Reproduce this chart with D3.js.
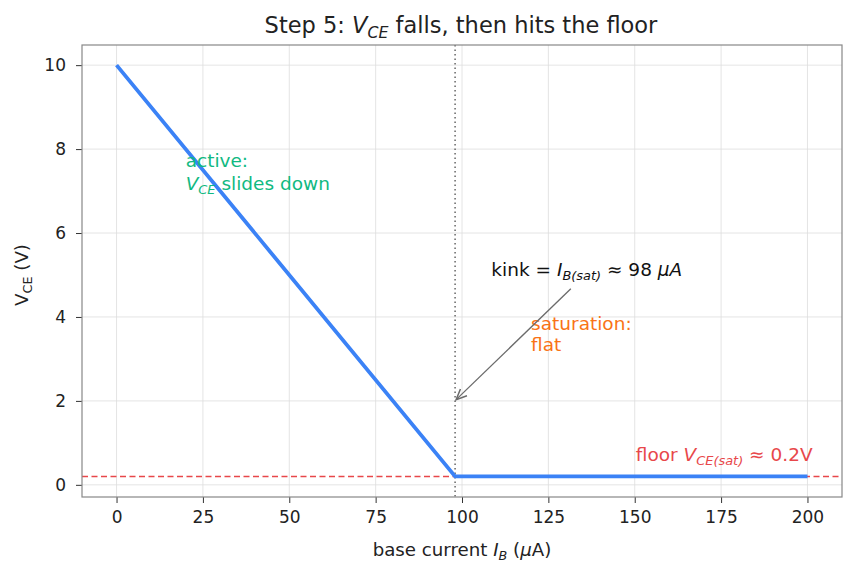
<!DOCTYPE html>
<html>
<head>
<script src="https://cdn.jsdelivr.net/npm/d3@7"></script>
<style>
  body { margin: 0; background: #fff; }
  svg { font-family: "DejaVu Sans", sans-serif; }
  .grid line { stroke: #ddd; stroke-width: 0.8; }
</style>
</head>
<body>
<svg id="chart" width="855" height="575"></svg>
<script>
// base current (uA) vs collector-emitter voltage (V)
var ibVals = [0, 98, 200];
var vceVals = [10, 0.2, 0.2];
var xTicks = [0, 25, 50, 75, 100, 125, 150, 175, 200];
var yTicks = [0, 2, 4, 6, 8, 10];
var ibSat = 98, vceSat = 0.2;

var margin = {top: 45, right: 13, bottom: 78, left: 82},
    width = 855 - margin.left - margin.right,
    height = 575 - margin.top - margin.bottom;

var svg = d3.select("#chart");
var g = svg.append("g").attr("transform", "translate(" + margin.left + "," + margin.top + ")");

var x = d3.scaleLinear().domain([-10, 210]).range([0, width]);
var y = d3.scaleLinear().domain([-0.29, 10.48]).range([height, 0]);

// grid
g.append("g").attr("class", "grid")
  .selectAll("line").data(xTicks).enter().append("line")
  .attr("x1", d => x(d)).attr("x2", d => x(d)).attr("y1", 0).attr("y2", height);
g.append("g").attr("class", "grid")
  .selectAll("line").data(yTicks).enter().append("line")
  .attr("y1", d => y(d)).attr("y2", d => y(d)).attr("x1", 0).attr("x2", width);

// floor line
g.append("line")
  .attr("x1", 0).attr("x2", width).attr("y1", y(vceSat)).attr("y2", y(vceSat))
  .attr("stroke", "#e8474a").attr("stroke-width", 1.5).attr("stroke-dasharray", "6,3.5");

// kink line
g.append("line")
  .attr("x1", x(ibSat)).attr("x2", x(ibSat)).attr("y1", 0).attr("y2", height)
  .attr("stroke", "#666").attr("stroke-width", 1.5).attr("stroke-dasharray", "1.5,3");

// main curve
var pts = ibVals.map((d, i) => [d, vceVals[i]]);
g.append("path").datum(pts)
  .attr("fill", "none").attr("stroke", "#3b82f6").attr("stroke-width", 3.8)
  .attr("d", d3.line().x(d => x(d[0])).y(d => y(d[1])));

// axes
var xAxis = g.append("g").attr("transform", "translate(0," + height + ")")
  .call(d3.axisBottom(x).tickValues(xTicks).tickSize(6).tickPadding(8));
var yAxis = g.append("g")
  .call(d3.axisLeft(y).tickValues(yTicks).tickSize(6).tickPadding(10));
[xAxis, yAxis].forEach(a => {
  a.attr("font-size", 17).attr("font-family", "DejaVu Sans");
  a.select(".domain").remove();
  a.selectAll(".tick line").attr("stroke", "#333").attr("stroke-width", 1);
  a.selectAll(".tick text").attr("fill", "#222");
});
g.append("rect").attr("width", width).attr("height", height)
  .attr("fill", "none").attr("stroke", "#888").attr("stroke-width", 1.2);

// helper for math-ish text: parts = [[text, style]]
function mtext(sel, parts, size) {
  parts.forEach(p => {
    var t = sel.append("tspan").text(p[0]);
    if (p[1] === "i") t.attr("font-style", "italic");
    if (p[1] === "sub" || p[1] === "subi") {
      t.attr("font-size", size * 0.7).attr("dy", size * 0.22);
      if (p[1] === "subi") t.attr("font-style", "italic");
    }
    if (p[1] === "up") t.attr("dy", -size * 0.22);
  });
}

// title
var tfs = 22.5;
var title = svg.append("text").attr("x", 461).attr("y", 33)
  .attr("text-anchor", "middle").attr("font-size", tfs).attr("fill", "#222");
mtext(title, [["Step 5: ", "n"], ["V", "i"], ["CE", "subi"], [" falls, then hits the floor", "up"]], tfs);

// axis labels
var lfs = 18.2;
var xl = svg.append("text").attr("x", margin.left + x(100)).attr("y", 556)
  .attr("text-anchor", "middle").attr("font-size", lfs).attr("fill", "#222");
mtext(xl, [["base current ", "n"], ["I", "i"], ["B", "subi"], [" (", "up"], ["μ", "i"], ["A)", "n"]], lfs);

var yl = svg.append("text")
  .attr("transform", "translate(28," + (margin.top + y(5)) + ") rotate(-90)")
  .attr("text-anchor", "middle").attr("font-size", lfs).attr("fill", "#222");
mtext(yl, [["V", "n"], ["CE", "sub"], [" (V)", "up"]], lfs);

// annotations
var fs = 18.5;
var act = g.append("text").attr("font-size", fs).attr("fill", "#10b981")
  .attr("x", x(20)).attr("y", y(7) - 24).text("active:");
var l2 = g.append("text").attr("font-size", fs).attr("fill", "#10b981")
  .attr("x", x(20)).attr("y", y(7) - 1);
mtext(l2, [["V", "i"], ["CE", "subi"], [" slides down", "up"]], fs);

var sat = g.append("text").attr("font-size", fs).attr("fill", "#f97316");
sat.append("tspan").attr("x", x(120)).attr("y", y(3.2) - 21).text("saturation:");
sat.append("tspan").attr("x", x(120)).attr("y", y(3.2)).text("flat");

var fl = g.append("text").attr("font-size", fs).attr("fill", "#e8474a")
  .attr("x", x(150.3)).attr("y", y(0.56));
mtext(fl, [["floor ", "n"], ["V", "i"], ["CE(sat)", "subi"], [" ≈ 0.2V", "up"]], fs);

var kk = g.append("text").attr("font-size", fs).attr("fill", "#111")
  .attr("x", x(108.5)).attr("y", y(4.97));
mtext(kk, [["kink = ", "n"], ["I", "i"], ["B(sat)", "subi"], [" ≈ 98 ", "up"], ["μA", "i"]], fs);

// arrow
svg.append("defs").append("marker").attr("id", "ah")
  .attr("viewBox", "0 0 10 10").attr("refX", 9).attr("refY", 5)
  .attr("markerWidth", 9).attr("markerHeight", 9).attr("orient", "auto")
  .append("path").attr("d", "M0,1 L9,5 L0,9").attr("fill", "none")
  .attr("stroke", "#6b6b6b").attr("stroke-width", 1.3);
g.append("line")
  .attr("x1", x(131.5)).attr("y1", y(4.67))
  .attr("x2", x(98.3)).attr("y2", y(2.03))
  .attr("stroke", "#6b6b6b").attr("stroke-width", 1.3)
  .attr("marker-end", "url(#ah)");
</script>
</body>
</html>
